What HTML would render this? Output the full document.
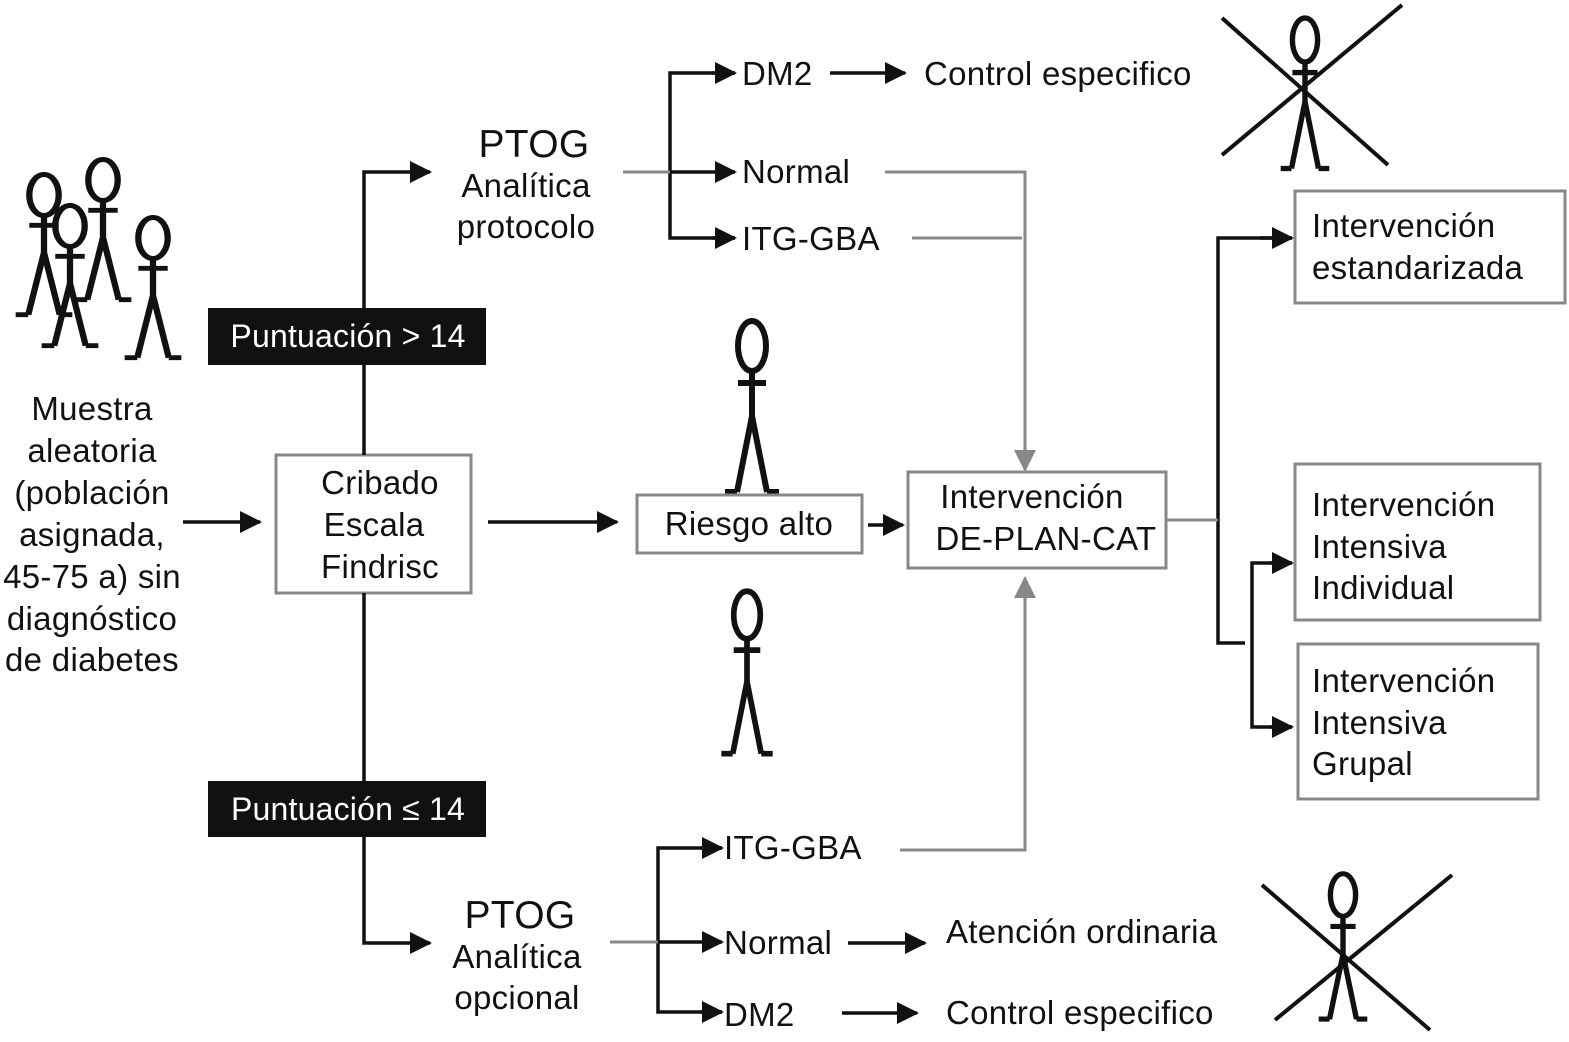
<!DOCTYPE html>
<html><head><meta charset="utf-8"><style>
html,body{margin:0;padding:0;background:#fff;}
svg{display:block;font-family:"Liberation Sans",Arial,sans-serif;}
</style></head><body>
<svg width="1569" height="1042" viewBox="0 0 1569 1042" xmlns="http://www.w3.org/2000/svg">
<defs>
<marker id="ab" markerWidth="22" markerHeight="22" refX="20" refY="11" orient="auto" markerUnits="userSpaceOnUse"><path d="M0,0 L22,11 L0,22 z" fill="#111"/></marker>
<marker id="ag" markerWidth="22" markerHeight="22" refX="20" refY="11" orient="auto" markerUnits="userSpaceOnUse"><path d="M0,0 L22,11 L0,22 z" fill="#888"/></marker>
<g id="fig" fill="none" stroke="#111" stroke-width="6">
<ellipse cx="0" cy="0" rx="14" ry="25"/>
<path d="M0,25 V75 M-14,37 H14 M0,70 L-15,146 M0,70 L15,146 M-27,146 H-15 M15,146 H27"/>
</g>
</defs>

<use href="#fig" transform="translate(752,346)"/>
<use href="#fig" transform="translate(747,615) scale(0.95)"/>
<use href="#fig" transform="translate(1305,40) scale(0.9,0.88)"/>
<use href="#fig" transform="translate(1343,895) scale(0.9,0.85)"/>
<g transform="translate(44,195) scale(1.05,0.82)"><use href="#fig"/></g>
<g transform="translate(103,180) scale(1.05,0.82)"><use href="#fig"/></g>
<g transform="translate(70,226) scale(1.05,0.82)"><use href="#fig"/></g>
<g transform="translate(153,238) scale(1.05,0.82)"><use href="#fig"/></g>
<g stroke="#111" stroke-width="4">
<line x1="1222" y1="18" x2="1388" y2="165"/><line x1="1402" y1="5" x2="1222" y2="155"/>
<line x1="1262" y1="885" x2="1430" y2="1030"/><line x1="1452" y1="875" x2="1275" y2="1020"/>
</g>

<g fill="#fff" stroke="#888" stroke-width="3">
<rect x="276" y="455" width="195" height="138"/>
<rect x="637" y="495" width="225" height="58"/>
<rect x="908" y="472" width="258" height="96"/>
<rect x="1295" y="191" width="270" height="112"/>
<rect x="1295" y="464" width="245" height="156"/>
<rect x="1298" y="644" width="240" height="155"/>
</g>

<g fill="none" stroke="#111" stroke-width="3.5">
<path d="M364,455 V172 H430" marker-end="url(#ab)"/>
<path d="M364,593 V943 H430" marker-end="url(#ab)"/>
<path d="M183,522 H260" marker-end="url(#ab)"/>
<path d="M488,522 H617" marker-end="url(#ab)"/>
<path d="M868,525 H903" marker-end="url(#ab)"/>
<path d="M735,73 H670 V238 H735" />
<path d="M712,73 H735" marker-end="url(#ab)"/>
<path d="M670,172 H735" marker-end="url(#ab)"/>
<path d="M712,238 H735" marker-end="url(#ab)"/>
<path d="M830,73 H905" marker-end="url(#ab)"/>
<path d="M722,848 H658 V1012 H722"/>
<path d="M700,848 H722" marker-end="url(#ab)"/>
<path d="M658,942 H722" marker-end="url(#ab)"/>
<path d="M700,1012 H722" marker-end="url(#ab)"/>
<path d="M848,943 H925" marker-end="url(#ab)"/>
<path d="M842,1013 H917" marker-end="url(#ab)"/>
<path d="M1292,238 H1218 V643 H1245"/>
<path d="M1260,238 H1292" marker-end="url(#ab)"/>
<path d="M1292,563 H1252 V727 H1292"/>
<path d="M1270,563 H1292" marker-end="url(#ab)"/>
<path d="M1270,727 H1292" marker-end="url(#ab)"/>
</g>
<g fill="none" stroke="#888" stroke-width="3">
<path d="M623,172 H670"/>
<path d="M885,172 H1025 V470" marker-end="url(#ag)"/>
<path d="M912,238 H1022"/>
<path d="M900,850 H1025 V578" marker-end="url(#ag)"/>
<path d="M610,942 H658"/>
<path d="M1166,520 H1218"/>
</g>

<rect x="208" y="308" width="278" height="57" fill="#111"/>
<rect x="208" y="781" width="278" height="56" fill="#111"/>
<g font-size="32" fill="#fff" text-anchor="middle" letter-spacing="0.2">
<text x="348" y="347">Puntuación &gt; 14</text>
<text x="348" y="820">Puntuación ≤ 14</text>
</g>

<g font-size="33" fill="#111" letter-spacing="0.3">
<g text-anchor="middle">
<text x="92" y="420">Muestra</text>
<text x="92" y="462">aleatoria</text>
<text x="92" y="504">(población</text>
<text x="92" y="546">asignada,</text>
<text x="92" y="588">45-75 a) sin</text>
<text x="92" y="630">diagnóstico</text>
<text x="92" y="671">de diabetes</text>
<text x="380" y="494">Cribado</text>
<text x="374" y="536">Escala</text>
<text x="380" y="578">Findrisc</text>
<text x="749" y="535">Riesgo alto</text>
<text x="1032" y="508">Intervención</text>
<text x="1046" y="550">DE-PLAN-CAT</text>
<text x="534" y="157" font-size="39">PTOG</text>
<text x="526" y="197">Analítica</text>
<text x="526" y="238">protocolo</text>
<text x="520" y="928" font-size="39">PTOG</text>
<text x="517" y="968">Analítica</text>
<text x="517" y="1009">opcional</text>
</g>
<text x="742" y="85">DM2</text>
<text x="924" y="85">Control especifico</text>
<text x="742" y="183">Normal</text>
<text x="742" y="250">ITG-GBA</text>
<text x="724" y="859">ITG-GBA</text>
<text x="724" y="954">Normal</text>
<text x="724" y="1026">DM2</text>
<text x="946" y="943">Atención ordinaria</text>
<text x="946" y="1024">Control especifico</text>
<text x="1312" y="237">Intervención</text>
<text x="1312" y="279">estandarizada</text>
<text x="1312" y="516">Intervención</text>
<text x="1312" y="558">Intensiva</text>
<text x="1312" y="599">Individual</text>
<text x="1312" y="692">Intervención</text>
<text x="1312" y="734">Intensiva</text>
<text x="1312" y="775">Grupal</text>
</g>
</svg>
</body></html>
